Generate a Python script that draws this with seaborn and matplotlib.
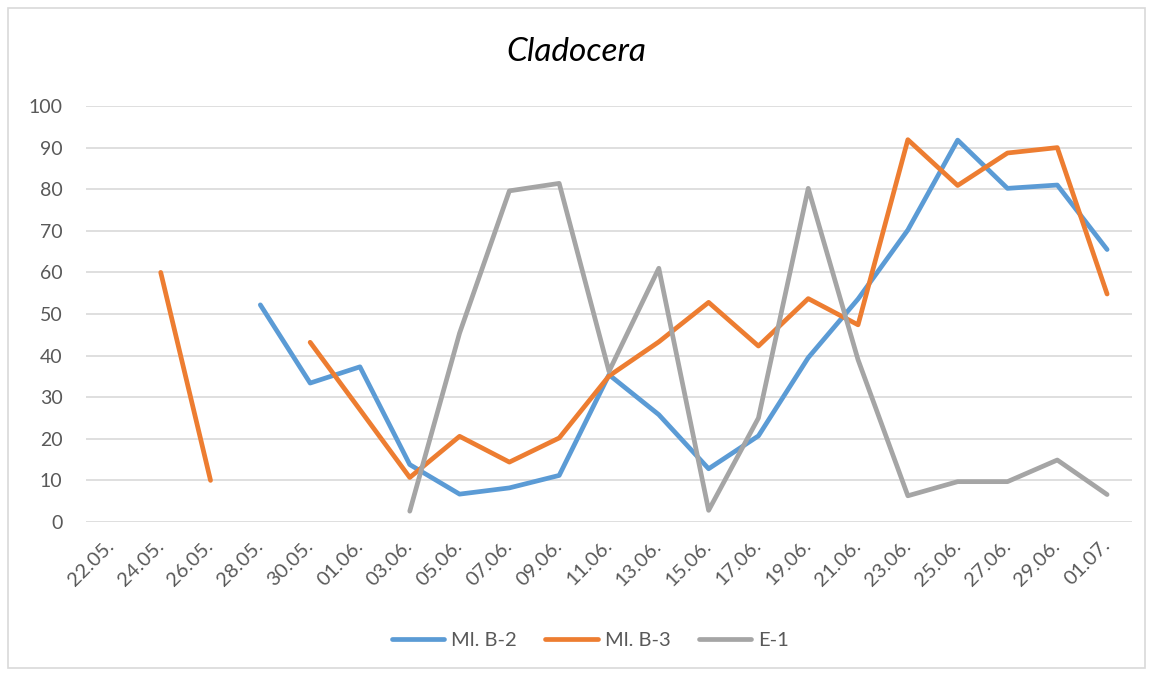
import numpy as np
import pandas as pd
import matplotlib
matplotlib.use("Agg")
import matplotlib.pyplot as plt
import seaborn as sns
from matplotlib.patches import Rectangle
from matplotlib.lines import Line2D

dates = ["22.05.", "24.05.", "26.05.", "28.05.", "30.05.", "01.06.", "03.06.",
         "05.06.", "07.06.", "09.06.", "11.06.", "13.06.", "15.06.", "17.06.",
         "19.06.", "21.06.", "23.06.", "25.06.", "27.06.", "29.06.", "01.07."]
nan = np.nan
ml_b2 = [nan, nan, nan, 52.2, 33.4, 37.3, 13.8, 6.7, 8.2, 11.2, 35.4, 25.8,
         12.8, 20.7, 39.5, 53.6, 70.2, 91.8, 80.2, 81.0, 65.5]
ml_b3 = [nan, 60.0, 10.0, nan, 43.2, 27.0, 10.7, 20.6, 14.4, 20.2, 35.1, 43.3,
         52.8, 42.3, 53.7, 47.4, 91.9, 80.9, 88.7, 90.0, 54.8]
e_1 = [nan, nan, nan, nan, nan, nan, 2.6, 45.4, 79.6, 81.4, 36.2, 61.0,
       2.8, 25.0, 80.2, 39.0, 6.3, 9.7, 9.7, 14.9, 6.6]
series_names = ["Ml. B-2", "Ml. B-3", "E-1"]
colors = ["#5B9BD5", "#ED7D31", "#A5A5A5"]

rows = []
for name, vals in zip(series_names, [ml_b2, ml_b3, e_1]):
    seg = 0
    prev_nan = True
    for i, v in enumerate(vals):
        if np.isnan(v):
            prev_nan = True
            continue
        if prev_nan:
            seg += 1
            prev_nan = False
        rows.append({"x": i, "value": v, "series": name, "seg": f"{name}_{seg}"})
df = pd.DataFrame(rows)

sns.set_theme(style="white")
plt.rcParams["font.family"] = ["Lato", "DejaVu Sans"]

fig = plt.figure(figsize=(11.53, 6.75), dpi=100)
ax = fig.add_axes([86 / 1153, 1 - 522 / 675, (1132 - 86) / 1153, (522 - 106) / 675])

sns.lineplot(data=df, x="x", y="value", hue="series", units="seg", estimator=None,
             hue_order=series_names, palette=colors, linewidth=3.4, ax=ax,
             legend=False, solid_capstyle="round", solid_joinstyle="round")

ax.set_xlim(-0.5, len(dates) - 0.5)
ax.set_ylim(0, 100)
ax.set_yticks(range(0, 101, 10))
ax.set_xticks(range(len(dates)))
ax.set_xticklabels(dates, rotation=45, ha="right", va="center", rotation_mode="anchor")
ax.tick_params(axis="x", length=0, pad=15, labelsize=14.5, labelcolor="#595959")
ax.tick_params(axis="y", length=0, pad=17, labelsize=14, labelcolor="#595959")
ax.set_xlabel("")
ax.set_ylabel("")
ax.yaxis.grid(True, color="#D9D9D9", linewidth=1.2)
ax.set_axisbelow(True)
for s in ["top", "right", "left", "bottom"]:
    ax.spines[s].set_visible(False)

fig.text(0.5, 1 - 52 / 675, "Cladocera", ha="center", va="center",
         fontsize=24, style="italic", color="#000000")

handles = [Line2D([0], [0], color=c, lw=3.4, solid_capstyle="round") for c in colors]
fig.legend(handles, series_names, loc="center", bbox_to_anchor=(0.512, 1 - 640 / 675),
           ncol=3, frameon=False, fontsize=14.5, handlelength=2.6, handletextpad=0.35,
           columnspacing=1.4, labelcolor="#595959")

fig.add_artist(Rectangle((8 / 1153, 1 - 668 / 675), (1145 - 8) / 1153, (668 - 8) / 675,
                         transform=fig.transFigure, fill=False, edgecolor="#D9D9D9",
                         linewidth=1.2))

fig.savefig("out.png", dpi=100)
